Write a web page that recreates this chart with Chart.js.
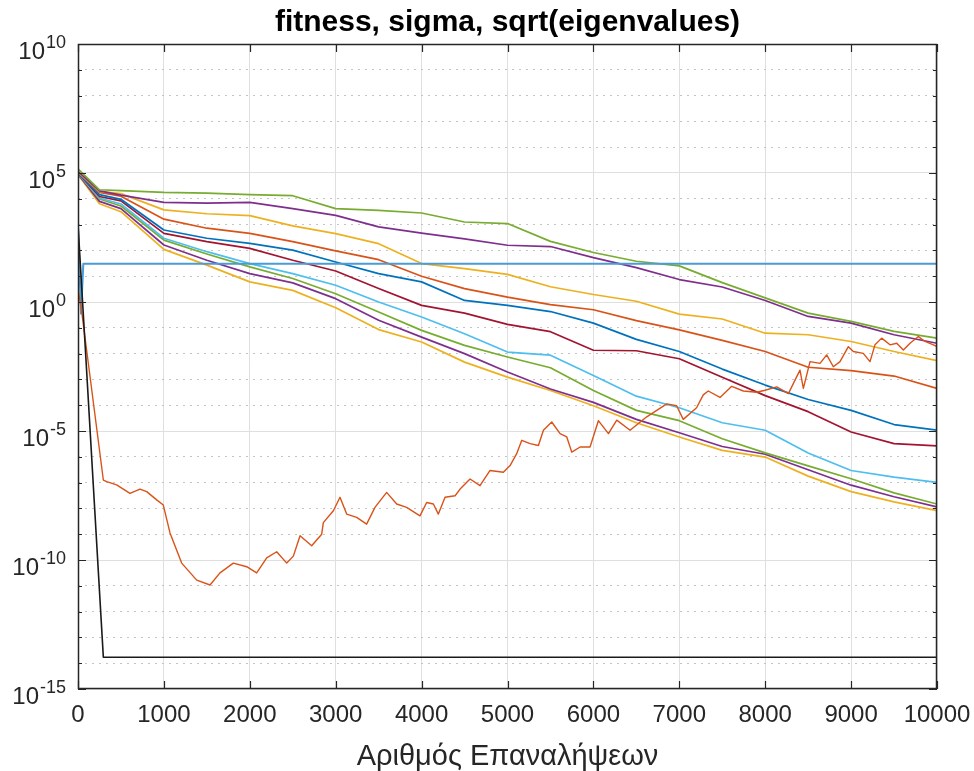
<!DOCTYPE html>
<html>
<head>
<meta charset="utf-8">
<script src="https://cdn.jsdelivr.net/npm/chart.js@4.4.0/dist/chart.umd.min.js"></script>
<style>
html,body{margin:0;padding:0;background:#ffffff;}
#wrap{width:974px;height:771px;}
</style>
</head>
<body>
<div id="wrap"><canvas id="c" width="974" height="771"></canvas></div>
<script>
// ---------- data (y values stored as log10 of the plotted value) ----------
const titleText = 'fitness, sigma, sqrt(eigenvalues)';
const xLabel = 'Αριθμός Επαναλήψεων';
const xTicks = [0, 1000, 2000, 3000, 4000, 5000, 6000, 7000, 8000, 9000, 10000];
const yDecades = [-15,-14,-13,-12,-11,-10,-9,-8,-7,-6,-5,-4,-3,-2,-1,0,1,2,3,4,5,6,7,8,9,10];
const yLabelDecades = [-15, -10, -5, 0, 5, 10];

const iterations = [0, 250, 500, 1000, 1500, 2000, 2500, 3000, 3500, 4000, 4500, 5000, 5500, 6000, 6500, 7000, 7500, 8000, 8500, 9000, 9500, 10000];

const eigGreenA  = [5.16, 4.35, 4.32, 4.25, 4.22, 4.16, 4.12, 3.62, 3.55, 3.45, 3.10, 3.04, 2.35, 1.92, 1.58, 1.40, 0.75, 0.16, -0.43, -0.75, -1.14, -1.40];
const eigPurpleA = [5.06, 4.31, 4.14, 3.86, 3.83, 3.86, 3.62, 3.36, 2.91, 2.67, 2.45, 2.20, 2.15, 1.72, 1.33, 0.87, 0.58, 0.06, -0.56, -0.82, -1.27, -1.60];
const eigYellowA = [5.03, 4.29, 4.20, 3.57, 3.42, 3.35, 2.95, 2.65, 2.26, 1.49, 1.29, 1.07, 0.59, 0.29, 0.03, -0.47, -0.66, -1.21, -1.27, -1.53, -1.92, -2.27];
const eigOrange  = [5.03, 4.25, 4.10, 3.21, 2.86, 2.66, 2.34, 1.98, 1.64, 1.00, 0.52, 0.19, -0.10, -0.30, -0.72, -1.08, -1.49, -1.92, -2.53, -2.66, -2.87, -3.35];
const eigBlue    = [5.00, 4.16, 3.98, 2.79, 2.47, 2.27, 2.01, 1.55, 1.10, 0.78, 0.06, -0.13, -0.37, -0.82, -1.45, -1.92, -2.60, -3.22, -3.78, -4.20, -4.75, -4.97];
const eigDarkRed = [5.00, 4.09, 3.92, 2.66, 2.34, 2.08, 1.62, 1.20, 0.52, -0.13, -0.43, -0.87, -1.15, -1.87, -1.89, -2.20, -2.92, -3.63, -4.25, -5.04, -5.49, -5.58];
const eigLightBl = [4.98, 4.03, 3.80, 2.47, 1.95, 1.49, 1.10, 0.65, 0.00, -0.58, -1.23, -1.94, -2.06, -2.85, -3.65, -4.10, -4.68, -4.97, -5.85, -6.53, -6.79, -6.99];
const eigGreenB  = [4.98, 3.99, 3.72, 2.40, 1.86, 1.36, 0.91, 0.32, -0.39, -1.10, -1.68, -2.13, -2.55, -3.43, -4.20, -4.60, -5.30, -5.85, -6.35, -6.85, -7.40, -7.83];
const eigPurpleB = [4.96, 3.90, 3.62, 2.21, 1.62, 1.10, 0.74, 0.13, -0.71, -1.36, -2.00, -2.71, -3.37, -3.89, -4.55, -5.07, -5.60, -5.90, -6.50, -7.10, -7.55, -7.94];
const eigYellowB = [4.94, 3.81, 3.50, 2.04, 1.43, 0.78, 0.45, -0.22, -1.07, -1.55, -2.33, -2.91, -3.43, -4.02, -4.68, -5.23, -5.75, -6.01, -6.75, -7.35, -7.75, -8.09];

const sigmaIter = [0, 40, 295, 334, 450, 605, 722, 800, 916, 993, 1071, 1207, 1382, 1537, 1653, 1808, 1964, 2080, 2197, 2313, 2430, 2507, 2585, 2720, 2837, 2856, 2973, 3050, 3128, 3244, 3360, 3457, 3593, 3710, 3826, 3981, 4059, 4137, 4195, 4273, 4390, 4448, 4564, 4680, 4797, 4952, 5030, 5107, 5166, 5263, 5360, 5418, 5515, 5612, 5690, 5748, 5845, 5961, 6058, 6175, 6272, 6427, 6621, 6854, 6969, 7046, 7201, 7279, 7337, 7474, 7610, 7746, 7901, 7998, 8134, 8270, 8347, 8405, 8444, 8522, 8638, 8716, 8793, 8871, 8968, 9026, 9142, 9220, 9278, 9356, 9453, 9531, 9608, 9686, 9783, 9861, 9958, 10000];
const sigmaLog  = [0.5, -0.3, -6.9, -6.96, -7.09, -7.42, -7.25, -7.35, -7.67, -7.87, -8.95, -10.12, -10.78, -10.97, -10.5, -10.12, -10.26, -10.5, -9.92, -9.68, -10.12, -9.85, -9.06, -9.45, -9.0, -8.55, -8.09, -7.57, -8.22, -8.35, -8.61, -7.96, -7.38, -7.83, -7.96, -8.29, -7.77, -7.83, -8.22, -7.57, -7.51, -7.25, -6.86, -7.12, -6.53, -6.60, -6.34, -5.88, -5.36, -5.49, -5.56, -4.97, -4.65, -5.10, -5.23, -5.82, -5.62, -5.62, -4.60, -5.10, -4.58, -4.97, -4.45, -3.95, -4.02, -4.55, -4.10, -3.60, -3.45, -3.70, -3.27, -3.45, -3.50, -3.42, -3.29, -3.55, -3.03, -2.64, -3.35, -2.31, -2.38, -2.05, -2.51, -2.31, -1.73, -1.92, -1.99, -2.31, -1.66, -1.40, -1.66, -1.60, -1.86, -1.60, -1.34, -1.53, -1.66, -1.73];

const fitnessIter = [0, 80, 295, 10000];
const fitnessLog  = [3.0, -1.5, -13.77, -13.77];

const levelIter = [0, 35, 62, 10000];
const levelLog  = [2.98, -0.45, 1.48, 1.48];

// ---------- helpers ----------
const C = {blue:'#0072BD', orange:'#D95319', yellow:'#EDB120', purple:'#7E2F8E', green:'#77AC30', lightblue:'#4DBEEE', darkred:'#A2142F'};
const FONT = "'Liberation Sans', Arial, Helvetica, sans-serif";
const AXIS_COLOR = '#262626';
function pts(xs, logs){ return xs.map((x,i)=>({x:x, y:Math.pow(10, logs[i])})); }
function decadeOf(v){ return Math.round(Math.log10(v)); }

function line(data, color, width){
  return {data:data, borderColor:color, backgroundColor:color, borderWidth:width||1.7, pointRadius:0, tension:0, fill:false, borderJoinStyle:'round'};
}

const datasets = [
  line(pts(fitnessIter, fitnessLog), '#1a1a1a', 1.6),
  line(pts(sigmaIter, sigmaLog), C.orange, 1.4),
  line(pts(levelIter, levelLog), '#4a9bd6', 2),
  line(pts(iterations, eigGreenA), C.green),
  line(pts(iterations, eigPurpleA), C.purple),
  line(pts(iterations, eigYellowA), C.yellow),
  line(pts(iterations, eigOrange), C.orange),
  line(pts(iterations, eigBlue), C.blue),
  line(pts(iterations, eigDarkRed), C.darkred),
  line(pts(iterations, eigLightBl), C.lightblue),
  line(pts(iterations, eigGreenB), C.green),
  line(pts(iterations, eigPurpleB), C.purple),
  line(pts(iterations, eigYellowB), C.yellow)
];

// inward ticks + box (MATLAB style)
const matlabBox = {
  id:'matlabBox',
  afterDatasetsDraw(chart){
    const {ctx, chartArea:a, scales} = chart;
    const x = scales.x, y = scales.y;
    ctx.save();
    ctx.strokeStyle = AXIS_COLOR;
    ctx.lineWidth = 1.2;
    ctx.beginPath();
    x.ticks.forEach(t=>{
      const px = Math.round(x.getPixelForValue(t.value)) + 0.5;
      ctx.moveTo(px, a.bottom); ctx.lineTo(px, a.bottom - 8);
      ctx.moveTo(px, a.top); ctx.lineTo(px, a.top + 8);
    });
    y.ticks.forEach(t=>{
      const e = decadeOf(t.value);
      const len = (e % 5 === 0) ? 8 : 4;
      const py = Math.round(y.getPixelForValue(t.value)) + 0.5;
      ctx.moveTo(a.left, py); ctx.lineTo(a.left + len, py);
      ctx.moveTo(a.right, py); ctx.lineTo(a.right - len, py);
    });
    ctx.stroke();
    ctx.lineWidth = 1.5;
    ctx.strokeRect(a.left + 0.5, a.top + 0.5, a.right - a.left - 1, a.bottom - a.top - 1);
    ctx.restore();
  },
  // y tick labels as 10 with a raised exponent, placed at the y scale's tick positions
  afterDraw(chart){
    const {ctx, chartArea:a, scales} = chart;
    const y = scales.y;
    ctx.save();
    ctx.fillStyle = AXIS_COLOR;
    ctx.textAlign = 'right';
    ctx.textBaseline = 'alphabetic';
    const right = a.left - 12;
    yLabelDecades.forEach(e=>{
      const py = y.getPixelForValue(Math.pow(10, e));
      const expText = String(e);
      ctx.font = '18px ' + FONT;
      const w = ctx.measureText(expText).width;
      ctx.fillText(expText, right, py + 4);
      ctx.font = '24px ' + FONT;
      ctx.fillText('10', right - w - 1, py + 15);
    });
    ctx.restore();
  }
};

new Chart(document.getElementById('c'), {
  type:'line',
  data:{datasets:datasets},
  options:{
    responsive:false,
    animation:false,
    devicePixelRatio:1,
    layout:{padding:{left:0, right:37, top:0, bottom:0}},
    plugins:{
      legend:{display:false},
      tooltip:{enabled:false},
      title:{display:true, fullSize:false, text:titleText, color:'#000000', font:{family:FONT, size:30, weight:'bold', lineHeight:1.2}, padding:{top:5, bottom:3}}
    },
    scales:{
      x:{
        type:'linear', min:0, max:10000,
        afterBuildTicks:(s)=>{ s.ticks = xTicks.map(v=>({value:v})); },
        afterFit:(s)=>{ s.height = 82; s.paddingRight = 0; s.paddingLeft = 0; },
        ticks:{autoSkip:false, maxRotation:0, padding:12, color:AXIS_COLOR, font:{family:FONT, size:24}, callback:(v)=>String(v)},
        grid:{drawTicks:false, color:'#dfdfdf', lineWidth:1},
        border:{display:false},
        title:{display:true, text:xLabel, color:AXIS_COLOR, font:{family:FONT, size:29, lineHeight:1.0}, padding:{top:0, bottom:0}}
      },
      y:{
        type:'logarithmic', min:1e-15, max:1e10,
        afterBuildTicks:(s)=>{ s.ticks = yDecades.map(e=>({value:Math.pow(10, e)})); },
        afterFit:(s)=>{ s.width = 78; s.paddingTop = 0; s.paddingBottom = 0; },
        ticks:{display:false, autoSkip:false},
        grid:{drawTicks:false, lineWidth:1,
          color:(c)=>{ if(!c.tick) return '#dfdfdf'; return (decadeOf(c.tick.value) % 5 === 0) ? '#dfdfdf' : '#c4c4c4'; }},
        border:{display:false,
          dash:(c)=>{ if(!c.tick) return []; return (decadeOf(c.tick.value) % 5 === 0) ? [] : [2, 5]; }}
      }
    }
  },
  plugins:[matlabBox]
});
</script>
</body>
</html>
